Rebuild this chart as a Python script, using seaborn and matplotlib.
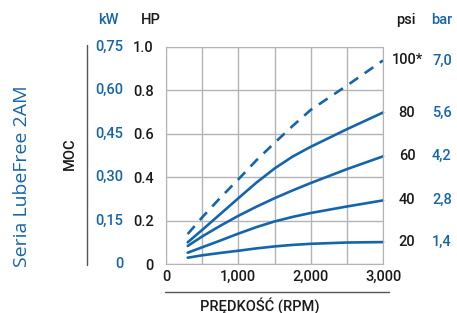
import matplotlib
matplotlib.use("Agg")
import matplotlib.pyplot as plt
import matplotlib.transforms as mtransforms
import seaborn as sns
import pandas as pd

rpm = [300, 500, 750, 1000, 1250, 1500, 1750, 2000, 2500, 3000]
hp_20 = [0.029, 0.040, 0.051, 0.061, 0.072, 0.081, 0.088, 0.093, 0.099, 0.101]
hp_40 = [0.052, 0.077, 0.108, 0.140, 0.170, 0.196, 0.217, 0.235, 0.265, 0.293]
hp_60 = [0.083, 0.127, 0.176, 0.222, 0.264, 0.303, 0.339, 0.373, 0.437, 0.496]
hp_80 = [0.100, 0.157, 0.230, 0.303, 0.375, 0.440, 0.495, 0.540, 0.621, 0.698]
hp_100 = [0.138, 0.215, 0.305, 0.390, 0.478, 0.558, 0.636, 0.710, 0.822, 0.938]

psi_labels = ["20", "40", "60", "80", "100*"]
bar_labels = ["1,4", "2,8", "4,2", "5,6", "7,0"]
hp_ticks = [0, 0.2, 0.4, 0.6, 0.8, 1.0]
hp_tick_labels = ["0", "0.2", "0.4", "0.6", "0.8", "1.0"]
kw_labels = ["0", "0,15", "0,30", "0,45", "0,60", "0,75"]
rpm_ticks = [0, 1000, 2000, 3000]
rpm_tick_labels = ["0", "1,000", "2,000", "3,000"]

BLUE = "#1565ad"
TXT = "#1a1a1a"
FS = 10.5

sns.set_style("white")
plt.rcParams["font.family"] = ["Roboto", "DejaVu Sans"]
plt.rcParams["font.weight"] = "medium"

fig = plt.figure(figsize=(4.57, 3.13), dpi=100)
ax = fig.add_axes([166 / 457, 49 / 313, 217 / 457, 217 / 313])

series = [hp_20, hp_40, hp_60, hp_80, hp_100]
for i, vals in enumerate(series):
    df = pd.DataFrame({"rpm": rpm, "hp": vals})
    sns.lineplot(data=df, x="rpm", y="hp", ax=ax, color=BLUE, lw=1.9,
                 linestyle=(0, (4, 3)) if i == 4 else "-", clip_on=False)

ax.set_xlim(0, 3000)
ax.set_ylim(0, 1.0)
ax.set_xticks(range(0, 3001, 500), minor=True)
ax.set_xticks(rpm_ticks)
ax.set_xticklabels(rpm_tick_labels, fontsize=FS, color=TXT)
ax.set_yticks(hp_ticks)
ax.set_yticklabels(hp_tick_labels, fontsize=FS, color=TXT)
ax.tick_params(axis="both", length=0)
ax.tick_params(axis="y", pad=9)
ax.tick_params(axis="x", pad=4)
ax.grid(True, which="both", color="#b4b4b4", lw=1)
for s in ax.spines.values():
    s.set_color("#b4b4b4")
ax.set_xlabel("")
ax.set_ylabel("")

tr = mtransforms.blended_transform_factory(ax.transAxes, ax.transData)
def px(x):
    return (x - 166) / 217

for v, lab in zip(hp_ticks, kw_labels):
    ax.text(px(123), v, lab, transform=tr, ha="right", va="center",
            fontsize=FS, color=BLUE)
ax.text(px(108), 1.126, "kW", transform=tr, ha="center", va="center",
        fontsize=FS, color=BLUE)
ax.text(px(151), 1.126, "HP", transform=tr, ha="center", va="center",
        fontsize=FS, color=TXT)
ax.plot([px(86.5), px(86.5)], [-0.003, 1.01], transform=tr, color="#555555",
        lw=1, clip_on=False)
ax.text(px(70), 0.51, "MOC", transform=tr, rotation=90, ha="center",
        va="center", fontsize=FS, color=TXT)
ax.text(px(22), 0.405, "Seria LubeFree 2AM", transform=tr, rotation=90,
        ha="center", va="center", fontsize=14, color=BLUE,
        family=["Open Sans", "DejaVu Sans"], weight="medium")

for vals, p, b in zip(series, psi_labels, bar_labels):
    ax.text(px(407), vals[-1], p, transform=tr, ha="center", va="center",
            fontsize=FS, color=TXT)
    ax.text(px(442), vals[-1], b, transform=tr, ha="center", va="center",
            fontsize=FS, color=BLUE)
ax.text(px(406), 1.126, "psi", transform=tr, ha="center", va="center",
        fontsize=FS, color=TXT)
ax.text(px(442), 1.126, "bar", transform=tr, ha="center", va="center",
        fontsize=FS, color=BLUE)

ax.plot([px(165), px(389)], [-0.129, -0.129], transform=tr, color="#555555",
        lw=1, clip_on=False)
ax.text(px(260), -0.19, "PRĘDKOŚĆ (RPM)", transform=tr, ha="center",
        va="center", fontsize=FS, color=TXT)

fig.savefig("out.png", dpi=100)
